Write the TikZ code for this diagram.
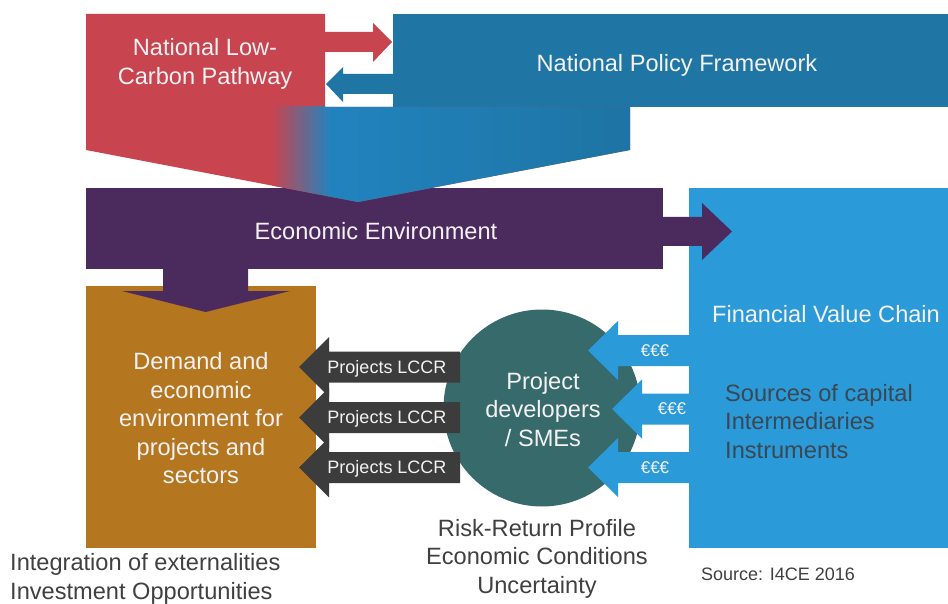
\documentclass[tikz,border=0pt]{standalone}
\usepackage{fontspec}
\setmainfont{Liberation Sans}
\definecolor{cred}{HTML}{C8444F}
\definecolor{topblue}{HTML}{1F76A5}
\definecolor{gblueA}{HTML}{2183BE}
\definecolor{gblueB}{HTML}{1E74A3}
\definecolor{cpurple}{HTML}{4B2B5E}
\definecolor{corange}{HTML}{B4761E}
\definecolor{fvcblue}{HTML}{2A9AD9}
\definecolor{cteal}{HTML}{376A6B}
\definecolor{cgray}{HTML}{3C3C3C}
\definecolor{txtlight}{HTML}{F4F1F3}
\definecolor{txtdark}{HTML}{404040}
\definecolor{txtsrc}{HTML}{3B4752}
\tikzset{
  big/.style={font=\fontsize{23.6}{28.5}\selectfont, text=txtlight, align=center, inner sep=0pt},
  arrowlbl/.style={font=\fontsize{18}{20}\selectfont, text=txtlight, inner sep=0pt},
  eurolbl/.style={font=\fontsize{17}{20}\selectfont, text=txtlight, inner sep=0pt},
}
\begin{document}
\begin{tikzpicture}[x=1pt,y=-1pt]
\useasboundingbox (0,0) rectangle (948,604);
\fill[white] (0,0) rectangle (948,604);

% Financial value chain block
\fill[fvcblue] (689,188) rectangle (948,548);
% Demand block
\fill[corange] (86,286) rectangle (316,548);

% Economic environment band with its two arrows
\fill[cpurple] (86,188) rectangle (663,269);
\fill[cpurple] (660,217) -- (702,217) -- (702,203) -- (732,231.5) -- (702,260) -- (702,246) -- (660,246) -- cycle;
\fill[cpurple] (163,265) -- (248,265) -- (248,291) -- (290,291) -- (205.5,312) -- (122,291) -- (163,291) -- cycle;

% National policy framework block
\fill[topblue] (393,14) rectangle (948,107);

% Low-carbon pathway block merging into the policy framework arrow
\fill[cred] (86,14) -- (325,14) -- (325,107) -- (630,107) -- (630,150) -- (358,202) -- (86,150) -- cycle;
\begin{scope}
  \clip (86,14) -- (325,14) -- (325,107) -- (630,107) -- (630,150) -- (358,202) -- (86,150) -- cycle;
  \shade[left color=cred, right color=gblueA] (272,107) rectangle (331,210);
  \shade[left color=gblueA, right color=gblueB] (330,107) rectangle (631,210);
\end{scope}

% Exchange arrows between pathway and framework
\fill[cred] (325,32) -- (373,32) -- (373,23) -- (392,42) -- (373,62) -- (373,52) -- (325,52) -- cycle;
\fill[topblue] (394,74) -- (343,74) -- (343,67) -- (326,84) -- (343,102) -- (343,94) -- (394,94) -- cycle;

% Project developers
\fill[cteal] (542,408) circle (98.5);

% Project flows towards demand
\foreach \c/\nm in {367/pa,417.5/pb,467.5/pc}{
  \fill[cgray] (460,\c-15.5) -- (329,\c-15.5) -- (329,\c-30) -- (299,\c) -- (329,\c+30) -- (329,\c+15.5) -- (460,\c+15.5) -- cycle;
  \node[arrowlbl] (\nm) at (387,\c+1.5) {Projects LCCR};
}

% Capital flows towards project developers
\foreach \c/\b in {350.5/618,409/642,467.5/618}{
  \fill[fvcblue] (692,\c-15.5) -- (\b,\c-15.5) -- (\b,\c-29.5) -- (\b-30,\c) -- (\b,\c+29.5) -- (\b,\c+15.5) -- (692,\c+15.5) -- cycle;
}
\node[eurolbl] (ea) at (655,351) {€€€};
\node[eurolbl] (eb) at (672,409) {€€€};
\node[eurolbl] (ec) at (655,468) {€€€};

% Labels
\node[big] (nlcp) at (205,64) {National Low-\\Carbon Pathway};
\node[big] (npf) at (677,65) {National Policy Framework};
\node[big] (ee) at (376,231) {Economic Environment};
\node[big] (dem) at (201,418.5) {Demand and\\economic\\environment for\\projects and\\sectors};
\node[big] (pd) at (543,409.5) {Project\\developers\\/ SMEs};
\node[big] (fvc) at (826,314) {Financial Value Chain};
\node[big, text=txtsrc, align=left, anchor=west] (srcs) at (725,421.5) {Sources of capital\\Intermediaries\\Instruments};
\node[big, text=txtdark] (risk) at (537,558.5) {Risk-Return Profile\\Economic Conditions\\Uncertainty};
\node[big, text=txtdark, align=left, anchor=west] (integ) at (10,579) {Integration of externalities\\Investment Opportunities};
\node[arrowlbl, text=txtdark, anchor=west] (source) at (701,574) {Source: I4CE 2016};
\end{tikzpicture}
\end{document}
